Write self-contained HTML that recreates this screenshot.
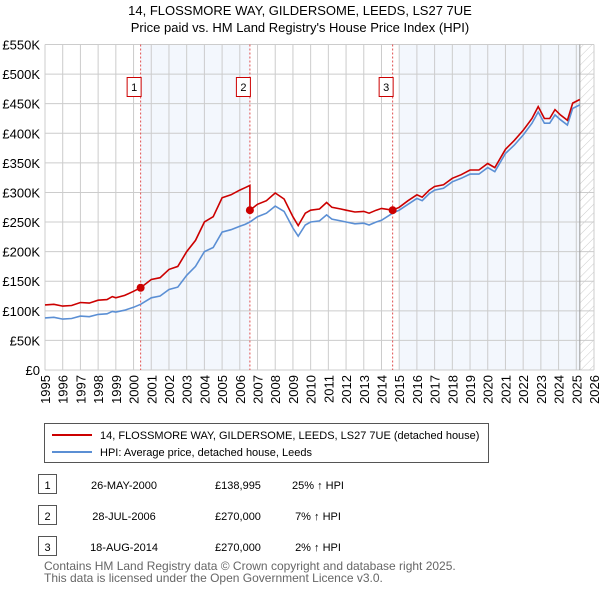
<!DOCTYPE html>
<html><head><meta charset="utf-8"><style>
body{margin:0;background:#fff;font-family:"Liberation Sans",sans-serif;}
svg text{font-family:"Liberation Sans",sans-serif;}
</style></head><body>
<svg id="chart" width="600" height="590">
<text x="300" y="15" text-anchor="middle" font-size="13">14, FLOSSMORE WAY, GILDERSOME, LEEDS, LS27 7UE</text>
<text x="300" y="32" text-anchor="middle" font-size="13">Price paid vs. HM Land Registry's House Price Index (HPI)</text>
<g id="plot"></g>
<g>
<rect x="44.5" y="423.5" width="444" height="39" fill="#fff" stroke="#555"/>
<line x1="52" y1="435" x2="92" y2="435" stroke="#cc0000" stroke-width="2"/>
<text x="100" y="439" font-size="11">14, FLOSSMORE WAY, GILDERSOME, LEEDS, LS27 7UE (detached house)</text>
<line x1="52" y1="452" x2="92" y2="452" stroke="#5b8fd4" stroke-width="2"/>
<text x="100" y="456" font-size="11">HPI: Average price, detached house, Leeds</text>
</g>
<g id="table" font-size="11"></g>
<text x="44" y="570" font-size="12" fill="#666">Contains HM Land Registry data © Crown copyright and database right 2025.</text>
<text x="44" y="582" font-size="12" fill="#666">This data is licensed under the Open Government Licence v3.0.</text>
</svg>
<script>
const hpiDates=[1995,1995.5,1996,1996.5,1997,1997.5,1998,1998.5,1998.8,1999,1999.5,2000,2000.4,2001,2001.5,2002,2002.5,2003,2003.5,2004,2004.5,2005,2005.5,2006,2006.3,2006.57,2007,2007.5,2008,2008.5,2009,2009.3,2009.7,2010,2010.5,2010.9,2011.2,2011.7,2012,2012.5,2013,2013.3,2013.7,2014,2014.63,2015,2015.5,2016,2016.3,2016.7,2017,2017.5,2018,2018.5,2019,2019.5,2020,2020.4,2021,2021.5,2022,2022.5,2022.85,2023.2,2023.5,2023.8,2024.1,2024.5,2024.8,2025.2];
const hpiValues=[88,89,86,87,91,90,94,95,99,98,101,106,111,122,125,136,140,160,175,200,207,233,237,243,246,250,259,265,277,268,240,226,245,250,252,262,255,252,250,247,248,245,250,253,265,270,280,290,286,298,304,307,318,324,331,331,342,335,366,380,397,417,436,417,417,431,423,414,442,448];
const redDates=[1995,1995.5,1996,1996.5,1997,1997.5,1998,1998.5,1998.8,1999,1999.5,2000,2000.4,2001,2001.5,2002,2002.5,2003,2003.5,2004,2004.5,2005,2005.5,2006,2006.3,2006.57,2006.57,2007,2007.5,2008,2008.5,2009,2009.3,2009.7,2010,2010.5,2010.9,2011.2,2011.7,2012,2012.5,2013,2013.3,2013.7,2014,2014.63,2015,2015.5,2016,2016.3,2016.7,2017,2017.5,2018,2018.5,2019,2019.5,2020,2020.4,2021,2021.5,2022,2022.5,2022.85,2023.2,2023.5,2023.8,2024.1,2024.5,2024.8,2025.2];
const redValues=[110,111,108,109,114,113,118,119,124,122,126,133,139,153,156,170,175,200,219,250,259,291,296,304,308,312,270,280,286,299,289,259,244,265,270,272,283,275,272,270,267,268,265,270,273,270,275,286,296,292,304,310,313,324,330,338,338,349,342,373,388,405,425,445,425,425,440,431,422,451,457];
const saleDates=[2000.4,2006.57,2014.63];
const salePrices=[138995,270000,270000];
const saleLabels=["26-MAY-2000","28-JUL-2006","18-AUG-2014"];
const salePriceText=["£138,995","£270,000","£270,000"];
const salePct=["25% ↑ HPI","7% ↑ HPI","2% ↑ HPI"];
const yTicks=[0,50,100,150,200,250,300,350,400,450,500,550];
const xTicks=[1995,1996,1997,1998,1999,2000,2001,2002,2003,2004,2005,2006,2007,2008,2009,2010,2011,2012,2013,2014,2015,2016,2017,2018,2019,2020,2021,2022,2023,2024,2025,2026];
const dataEnd=2025.2;

const NS="http://www.w3.org/2000/svg";
const X0=45,X1=594,Y0=370,Y1=44.5;
const xs=d=>X0+(d-1995)/(2026-1995)*(X1-X0);
const ys=v=>Y0-v/550*(Y0-Y1);
const plot=document.getElementById('plot');
function mk(tag,attrs,parent){const e=document.createElementNS(NS,tag);for(const k in attrs)e.setAttribute(k,attrs[k]);(parent||plot).appendChild(e);return e;}

// shaded bands
let b=mk('rect',{x:xs(saleDates[0]),y:Y1,width:xs(saleDates[1])-xs(saleDates[0]),height:Y0-Y1,fill:'#eef3fc',opacity:0.7});


b=mk('rect',{x:xs(saleDates[2])+7,y:Y1,width:xs(dataEnd)-xs(saleDates[2])-7,height:Y0-Y1,fill:'#eef3fc',opacity:0.7});


// hatch
const defs=mk('defs',{});
const pat=mk('pattern',{id:'hatch',width:6,height:6,patternUnits:'userSpaceOnUse',patternTransform:'rotate(45)'},defs);
mk('line',{x1:0,y1:0,x2:0,y2:6,stroke:'#ccc','stroke-width':1},pat);
b=mk('rect',{x:xs(dataEnd),y:Y1,width:X1-xs(dataEnd),height:Y0-Y1,fill:'url(#hatch)'});


// grid
yTicks.forEach(t=>{
 const l=mk('line',{x1:X0,x2:X1,y1:ys(t),y2:ys(t),stroke:'#ccc','stroke-width':1});
 
 
 const tx=mk('text',{x:40,y:ys(t)+5,'text-anchor':'end','font-size':13});
 tx.textContent=t===0?'£0':'£'+t+'K';
 
 
});
xTicks.forEach(t=>{
 const l=mk('line',{x1:xs(t),x2:xs(t),y1:Y1,y2:Y0,stroke:'#ccc','stroke-width':1});
 
 
 const tx=mk('text',{x:0,y:0,'text-anchor':'end','font-size':13,transform:`translate(${xs(t)+5},375) rotate(-90)`});
 tx.textContent=t;
 
 
});
let dl=mk('line',{x1:xs(dataEnd),x2:xs(dataEnd),y1:Y1,y2:Y0,stroke:'#999','stroke-width':1});


// sale markers
saleDates.forEach((d,i)=>{
 const l=mk('line',{x1:xs(d),x2:xs(d),y1:Y1,y2:Y0,stroke:'#e05050','stroke-width':1,'stroke-dasharray':'2,2'});
 
 
 const r=mk('rect',{x:xs(d)-13.5,y:77.5,width:14,height:19,fill:'#fff',stroke:'#cc0000'});
 
 
 const t=mk('text',{x:xs(d)-6.5,y:91,'text-anchor':'middle','font-size':11});
 t.textContent=i+1;
 
 
});
// lines
const pts=(ds,vs)=>ds.map((d,i)=>xs(d).toFixed(1)+','+ys(vs[i]).toFixed(1)).join(' ');
let p=mk('polyline',{points:pts(hpiDates,hpiValues),fill:'none',stroke:'#5b8fd4','stroke-width':1.6});


p=mk('polyline',{points:pts(redDates,redValues),fill:'none',stroke:'#cc0000','stroke-width':1.6});


saleDates.forEach((d,i)=>{
 const c=mk('circle',{cx:xs(d),cy:ys(salePrices[i]/1000),r:4,fill:'#cc0000'});
 
 
});
// table
const tb=document.getElementById('table');
saleLabels.forEach((s,i)=>{
 const y=487+i*31;
 const r=mk('rect',{x:38.5,y:y-12.5,width:18,height:19,fill:'#fff',stroke:'#555'},tb);
 
 
 const vals=[[47.5,String(i+1),'middle'],[124,s,'middle'],[238,salePriceText[i],'middle'],[318,salePct[i],'middle']];
 const names=['table-num','table-date','table-price','table-hpi-change'];
 vals.forEach((v,j)=>{
  const t=mk('text',{x:v[0],y:y+2,'text-anchor':v[2],'font-size':11},tb);
  t.textContent=v[1];
  
  
 });
});
</script>
</body></html>
